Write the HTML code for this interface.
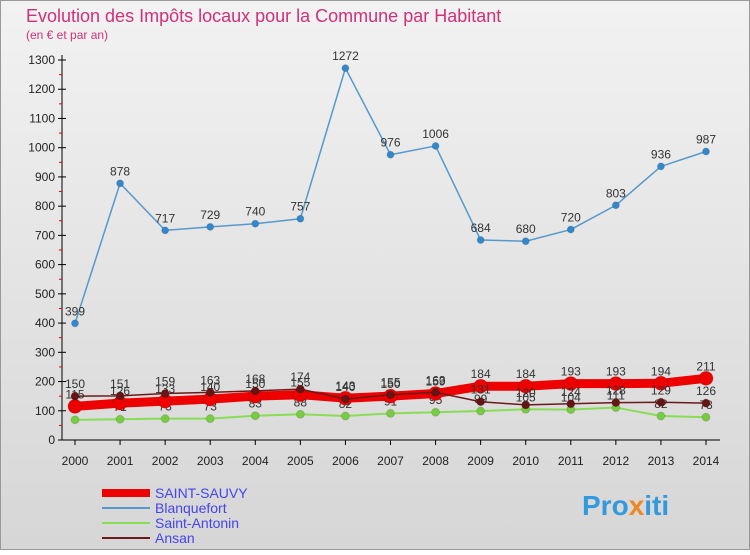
<!DOCTYPE html>
<html><head><meta charset="utf-8"><style>
body{margin:0;width:750px;height:550px;overflow:hidden;font-family:"Liberation Sans",sans-serif}
</style></head><body>
<svg id="c" width="750" height="550" xmlns="http://www.w3.org/2000/svg">
<defs><linearGradient id="bg" x1="0" y1="0" x2="0" y2="1"><stop offset="0" stop-color="#f2f2f2"/><stop offset="1" stop-color="#d6d6d6"/></linearGradient></defs>
<rect x="0.5" y="0.5" width="749" height="549" fill="url(#bg)" stroke="#999"/>
<text x="26" y="22" font-size="18" fill="#d0307a">Evolution des Impôts locaux pour la Commune par Habitant</text>
<text x="26" y="39" font-size="12" fill="#d0307a">(en € et par an)</text>
<g id="axes"></g><g id="series"></g>
<g>
<line x1="102" y1="493" x2="150" y2="493" stroke="#ee0000" stroke-width="8"/>
<text x="155" y="498" font-size="14" fill="#4444ee">SAINT-SAUVY</text>
<line x1="102" y1="508" x2="150" y2="508" stroke="#5599cc" stroke-width="2"/>
<text x="155" y="513" font-size="14" fill="#4444ee">Blanquefort</text>
<line x1="102" y1="523" x2="150" y2="523" stroke="#88dd55" stroke-width="2"/>
<text x="155" y="528" font-size="14" fill="#4444ee">Saint-Antonin</text>
<line x1="102" y1="538" x2="150" y2="538" stroke="#6b1a1a" stroke-width="2"/>
<text x="155" y="543" font-size="14" fill="#4444ee">Ansan</text>
</g>
<text x="582" y="515" font-size="28" font-weight="bold" fill="#3399dd">Pro<tspan fill="#ee8822">x</tspan>iti</text>
</svg>
<script>
const years=[2000,2001,2002,2003,2004,2005,2006,2007,2008,2009,2010,2011,2012,2013,2014];
const yTicks=[0,100,200,300,400,500,600,700,800,900,1000,1100,1200,1300];
const saintSauvy=[115,126,133,140,150,155,143,150,159,184,184,193,193,194,211];
const blanquefort=[399,878,717,729,740,757,1272,976,1006,684,680,720,803,936,987];
const saintAntonin=[69,71,73,73,83,88,82,91,95,99,105,104,111,82,78];
const ansan=[150,151,159,163,168,174,140,155,163,131,120,124,128,129,126];
const NS="http://www.w3.org/2000/svg";
const X=i=>75+i*(706-75)/14, Y=v=>440-v*(380/1300);
function mk(t,a,p){const e=document.createElementNS(NS,t);for(const k in a)e.setAttribute(k,a[k]);p.appendChild(e);return e;}
const ax=document.getElementById('axes'),sr=document.getElementById('series');
const yl=mk('line',{x1:62,y1:55,x2:62,y2:440,stroke:'#000'},ax);


const xl=mk('line',{x1:62,y1:440,x2:720,y2:440,stroke:'#000'},ax);


yTicks.forEach(v=>{mk('line',{x1:58,y1:Y(v),x2:66,y2:Y(v),stroke:'#000'},ax);
 if(v<1300)mk('line',{x1:59,y1:Y(v+50),x2:62,y2:Y(v+50),stroke:'#e00'},ax);
 const t=mk('text',{x:55,y:Y(v)+4,'font-size':12,'text-anchor':'end',fill:'#222'},ax);t.textContent=v;
 
 });
years.forEach((y,i)=>{mk('line',{x1:X(i),y1:440,x2:X(i),y2:445,stroke:'#000'},ax);
 const t=mk('text',{x:X(i),y:465,'font-size':12,'text-anchor':'middle',fill:'#222'},ax);t.textContent=y;
 
 });
function series(d,name,col,w,r,dot){const g=mk('g',{},sr);
 
 
 mk('polyline',{points:d.map((v,i)=>X(i)+','+Y(v)).join(' '),fill:'none',stroke:col,'stroke-width':w,'stroke-linejoin':'round'},g);
 d.forEach((v,i)=>{const c=mk('circle',{cx:X(i),cy:Y(v),r:r,fill:dot,stroke:'#0002'},g);
  
  
  const t=mk('text',{x:X(i),y:Y(v)-8,'font-size':12,'text-anchor':'middle',fill:'#333'},g);t.textContent=v;});}
series(saintAntonin,'saint-antonin','#88dd55',2,4,'#77cc44');
series(blanquefort,'blanquefort','#5599cc',1.5,3.5,'#3388cc');
series(saintSauvy,'saint-sauvy','#ee0000',9,7,'#ee0000');
series(ansan,'ansan','#6b1a1a',1.5,4,'#661515');
</script>
</body></html>
